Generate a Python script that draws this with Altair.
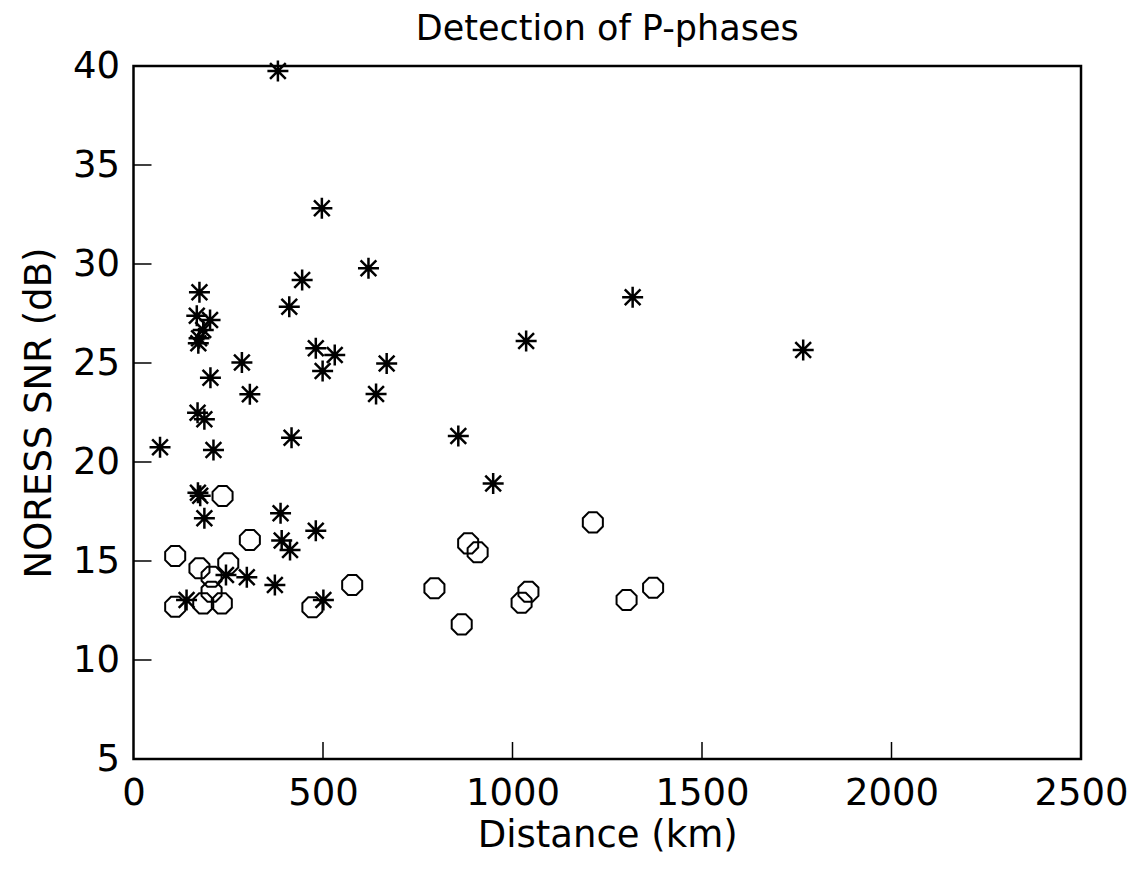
import altair as alt
import pandas as pd

# Asterisk series (detected): distance km, SNR dB
star_dist = [381, 497, 174, 167, 202, 184, 173, 171, 445, 620, 411, 286, 203, 481, 531, 499,
             307, 640, 169, 187, 417, 70, 211, 1317, 1036, 668, 857, 949, 1767,
             170, 176, 187, 388, 481, 391, 413, 244, 299, 373, 140, 501]
star_snr = [39.75, 32.81, 28.57, 27.39, 27.17, 26.67, 26.25, 26.0, 29.19, 29.78, 27.84, 25.02, 24.26, 25.74, 25.4, 24.6,
            23.42, 23.43, 22.49, 22.16, 21.23, 20.74, 20.61, 28.32, 26.11, 24.98, 21.31, 18.92, 25.66,
            18.45, 18.3, 17.16, 17.41, 16.53, 16.03, 15.56, 14.29, 14.18, 13.79, 13.03, 13.03]

# Octagon series
circ_dist = [235, 307, 110, 174, 250, 206, 206, 110, 184, 233, 577, 472,
             1212, 883, 908, 794, 1042, 1024, 866, 1301, 1371]
circ_snr = [18.28, 16.06, 15.25, 14.63, 14.88, 14.21, 13.45, 12.69, 12.86, 12.86, 13.79, 12.66,
            16.95, 15.89, 15.44, 13.62, 13.45, 12.89, 11.80, 13.03, 13.65]

x_ticks = [0, 500, 1000, 1500, 2000, 2500]
y_ticks = [5, 10, 15, 20, 25, 30, 35, 40]
x_inner = [500, 1000, 1500, 2000]
y_inner = [10, 15, 20, 25, 30, 35]

W, H = 947.5, 693
FONT = "DejaVu Sans"

xs = alt.Scale(domain=[0, 2500], nice=False, zero=False)
ys = alt.Scale(domain=[5, 40], nice=False, zero=False)

STAR = "M0,-1L0,1M-1,0L1,0M-0.75,-0.75L0.75,0.75M-0.75,0.75L0.75,-0.75"
OCT = ("M0.383,-0.924L0.924,-0.383L0.924,0.383L0.383,0.924L-0.383,0.924"
       "L-0.924,0.383L-0.924,-0.383L-0.383,-0.924Z")

stars = pd.DataFrame({"d": star_dist, "s": star_snr})
circs = pd.DataFrame({"d": circ_dist, "s": circ_snr})

xaxis = alt.Axis(values=x_ticks, format="d", tickSize=0, domain=False, grid=False, labelFontSize=37,
                 labelFont=FONT, labelColor="black", labelPadding=16, title="Distance (km)",
                 titleFont=FONT, titleFontSize=37, titleFontWeight="normal", titleColor="black",
                 titlePadding=6, labelFlush=False)
yaxis = alt.Axis(values=y_ticks, format="d", tickSize=0, domain=False, grid=False, labelFontSize=37,
                 labelFont=FONT, labelColor="black", labelPadding=14, title="NORESS SNR (dB)",
                 titleFont=FONT, titleFontSize=37, titleFontWeight="normal", titleColor="black",
                 titlePadding=14, labelFlush=False)

star_layer = alt.Chart(stars).mark_point(shape=STAR, size=441, filled=False, color="black",
                                         strokeWidth=2.5, opacity=1).encode(
    x=alt.X("d:Q", scale=xs, axis=xaxis),
    y=alt.Y("s:Q", scale=ys, axis=yaxis),
)
circ_layer = alt.Chart(circs).mark_point(shape=OCT, size=470, filled=False, color="black",
                                         strokeWidth=2, opacity=1).encode(
    x=alt.X("d:Q", scale=xs),
    y=alt.Y("s:Q", scale=ys),
)
xt = alt.Chart(pd.DataFrame({"t": x_inner})).mark_rule(color="black", strokeWidth=1.5).encode(
    x=alt.X("t:Q", scale=xs), y=alt.value(H), y2=alt.value(H - 17))
yt = alt.Chart(pd.DataFrame({"t": y_inner})).mark_rule(color="black", strokeWidth=1.5).encode(
    y=alt.Y("t:Q", scale=ys), x=alt.value(0), x2=alt.value(18))

chart = alt.layer(xt, yt, circ_layer, star_layer).properties(
    width=W, height=H,
    title=alt.TitleParams("Detection of P-phases", font=FONT, fontSize=35, fontWeight="normal",
                          color="black", anchor="middle", offset=0),
    autosize=alt.AutoSizeParams(type="none"),
    padding={"left": 125.5, "top": 58, "right": 50, "bottom": 110},
).configure(background="white").configure_view(stroke="black", strokeWidth=2.5)

chart.save("out.html", embed_options={"renderer": "svg", "actions": False})
